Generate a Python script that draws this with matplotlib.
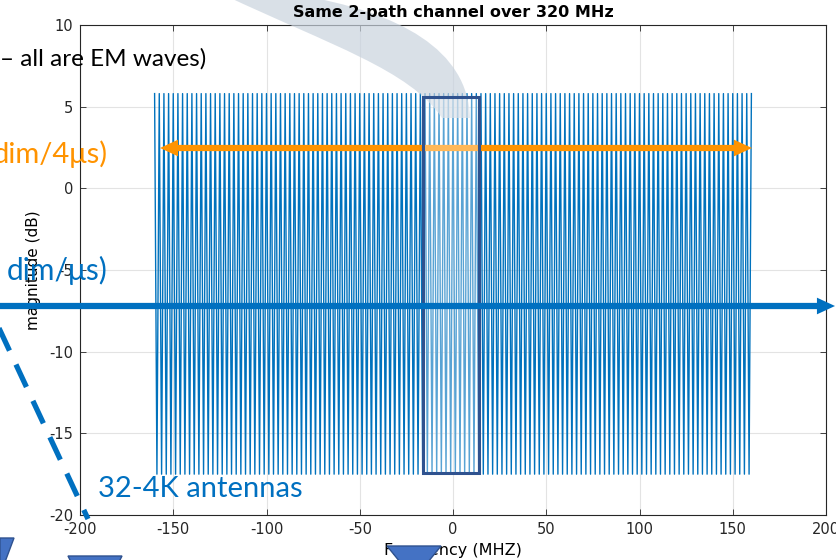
import matplotlib
matplotlib.use('Agg')
import numpy as np
import matplotlib.pyplot as plt
from matplotlib.patches import FancyArrowPatch, Polygon, Rectangle, PathPatch
from matplotlib.path import Path
from matplotlib.lines import Line2D

plt.rcParams['axes.unicode_minus'] = False

# 2-path channel response
band_mhz = [-160, 160]       # occupied band
n_periods = 128              # ripple periods across the band
peak_db = 5.8                # top of each ripple
notch_db = -17.5             # bottom of each notch
highlight_mhz = [-16, 14]    # boxed sub-band
highlight_db = [-17.4, 5.6]

x_ticks = [-200, -150, -100, -50, 0, 50, 100, 150, 200]
y_ticks = [-20, -15, -10, -5, 0, 5, 10]

freq = np.linspace(band_mhz[0], band_mhz[1], 2 * n_periods + 1)
mag = np.where(np.arange(freq.size) % 2 == 0, peak_db, notch_db)

W, H = 836, 560
def fp(x, y):
    # pixel (from top-left) -> figure fraction
    return (x / W, 1 - y / H)

fig = plt.figure(figsize=(W / 100, H / 100), dpi=100)
ax = fig.add_axes([80 / W, 1 - 515 / H, 746 / W, 490 / H])

line_col = (0, 0.447, 0.741)
ax.plot(freq, mag, color=line_col, lw=1.0)

ax.set_xlim(-200, 200)
ax.set_ylim(-20, 10)
ax.set_xticks(x_ticks)
ax.set_yticks(y_ticks)
ax.grid(True, color='#e3e3e3', lw=0.8)
ax.set_axisbelow(True)
ax.tick_params(direction='in', top=True, right=True, length=4, width=0.6,
               colors='0.15', labelsize=10.5, pad=5)
for s in ax.spines.values():
    s.set_color('0.15')
    s.set_linewidth(0.8)
# title as figure text so it sits above the slide callout
fig.text(*fp(453, 13), 'Same 2-path channel over 320 MHz', fontsize=11.5,
         fontweight='bold', ha='center', va='center', zorder=8)
ax.set_xlabel('Frequency (MHZ)', fontsize=11.5, labelpad=4)
ax.set_ylabel('magnitude (dB)', fontsize=11, labelpad=6)

# slide overlays ----------------------------------------------------------
orange = '#FF9300'
blue = '#0070C0'
tri_col = '#4472C4'
tri_edge = '#2F528F'

# light grey curved callout
verts = [fp(224, -5), fp(330, 45), fp(410, 70), fp(442, 118),
         fp(470, 118), fp(468, 50), fp(400, 12), fp(298, -5), fp(224, -5)]
codes = [Path.MOVETO, Path.CURVE4, Path.CURVE4, Path.CURVE4,
         Path.LINETO, Path.CURVE4, Path.CURVE4, Path.CURVE4, Path.CLOSEPOLY]
fig.add_artist(PathPatch(Path(verts, codes), transform=fig.transFigure,
                         facecolor='#C9D3DE', edgecolor='none', alpha=0.7, zorder=2))

# orange double arrow
mid = ((160 + 752) / 2, 148)
for end in (160, 752):
    fig.add_artist(FancyArrowPatch(fp(*mid), fp(end, 148), transform=fig.transFigure,
                                   arrowstyle='simple,head_length=13,head_width=12,tail_width=4.5',
                                   mutation_scale=1, color=orange, lw=0,
                                   shrinkA=0, shrinkB=0, zorder=3))

# highlighted sub-band box
fig.add_artist(Rectangle((highlight_mhz[0], highlight_db[0]),
                         highlight_mhz[1] - highlight_mhz[0],
                         highlight_db[1] - highlight_db[0],
                         transform=ax.transData, facecolor=(1, 1, 1, 0.35),
                         edgecolor=tri_edge, lw=2.2, zorder=4))

# blue arrow
fig.add_artist(FancyArrowPatch(fp(-5, 306), fp(835, 306), transform=fig.transFigure,
                               arrowstyle='simple,head_length=13,head_width=12,tail_width=4.5',
                               mutation_scale=1, color=blue, lw=0,
                               shrinkA=0, shrinkB=0, zorder=5))

# dashed antenna line
(x0, y0), (x1, y1) = fp(-2, 326), fp(88, 519)
fig.add_artist(Line2D([x0, x1], [y0, y1], transform=fig.transFigure, color=blue,
                      lw=3.8, dashes=(4.7, 2.9), dash_capstyle='butt', zorder=5))

# bottom triangles
for pts in ([(0, 538), (14, 538), (5, 562), (0, 562)],
            [(68, 556), (122, 556), (119, 562), (71, 562)],
            [(387, 546), (441, 546), (428, 562), (400, 562)]):
    fig.add_artist(Polygon([fp(*p) for p in pts], closed=True, transform=fig.transFigure,
                           facecolor=tri_col, edgecolor=tri_edge, lw=1, zorder=6))

# slide text
slide_font = 'Lato'
fig.text(*fp(0, 66), '\u2013 all are EM waves)', fontsize=17.5, family=slide_font,
         color='black', ha='left', va='baseline', zorder=7)
fig.text(*fp(108, 163), 'dim/4\u03bcs)', fontsize=21, family=slide_font,
         color=orange, ha='right', va='baseline', zorder=7)
fig.text(*fp(108, 280), 'dim/\u03bcs)', fontsize=21.5, family=slide_font,
         color=blue, ha='right', va='baseline', zorder=7)
fig.text(*fp(98, 497), '32-4K antennas', fontsize=21, family=slide_font,
         color=blue, ha='left', va='baseline', zorder=7)

fig.savefig('out.png', dpi=100)
